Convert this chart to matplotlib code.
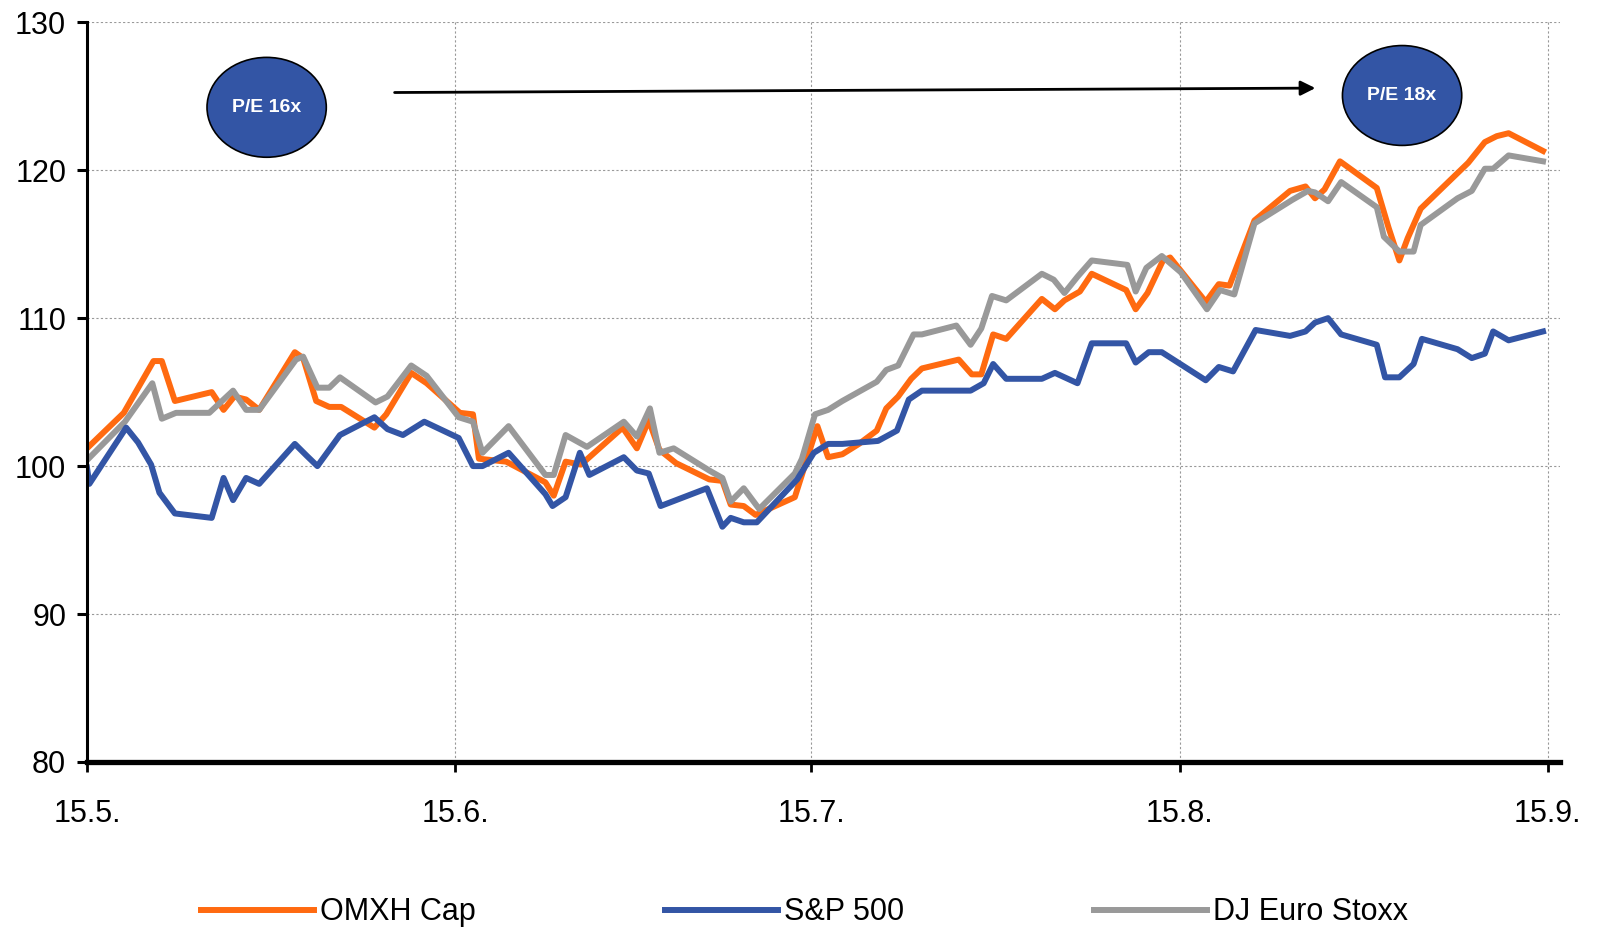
import matplotlib
matplotlib.use("Agg")
import matplotlib.pyplot as plt
import matplotlib.dates as mdates
from matplotlib.patches import Ellipse
from matplotlib.ticker import FuncFormatter
import numpy as np
import pandas as pd

START = pd.Timestamp("2012-05-15")

# days after 15.5., index value
omxh_days = [0, 3.1, 5.6, 6.3, 7.4, 10.5, 11.5, 12.4, 13.4, 14.5, 17.5, 18.2, 19.3, 20.4, 21.4,
             24.2, 25.2, 27.3, 28.6, 31.4, 32.5, 33.0, 35.3, 38.6, 39.3, 40.3, 41.6, 45.1, 46.3,
             47.3, 48.2, 49.6, 52.4, 53.5, 54.2, 55.3, 56.3, 59.6, 61.5, 62.4, 63.6, 65.0, 66.5,
             67.3, 68.3, 69.4, 70.3, 73.4, 74.5, 75.3, 76.3, 77.4, 80.4, 81.5, 82.3, 83.6, 84.6,
             87.5, 88.3, 89.3, 90.6, 91.2, 94.2, 95.3, 96.2, 98.3, 101.3, 102.6, 103.4, 104.2,
             105.5, 108.6, 109.6, 110.5, 111.2, 112.3, 116.3, 117.7, 118.7, 119.7, 122.6]
omxh = [101.2, 103.6, 107.1, 107.1, 104.4, 105.0, 103.8, 104.7, 104.5, 103.8, 107.7, 107.3, 104.4,
        104.0, 104.0, 102.6, 103.5, 106.3, 105.6, 103.6, 103.5, 100.5, 100.3, 98.9, 98.0, 100.3,
        100.1, 102.6, 101.2, 103.1, 101.1, 100.2, 99.1, 99.0, 97.4, 97.3, 96.7, 97.9, 102.7, 100.6,
        100.8, 101.5, 102.4, 103.9, 104.7, 105.9, 106.6, 107.2, 106.2, 106.2, 108.9, 108.6, 111.3,
        110.6, 111.2, 111.8, 113.0, 111.9, 110.6, 111.7, 113.9, 114.1, 111.1, 112.3, 112.2, 116.6,
        118.6, 118.9, 118.1, 118.7, 120.6, 118.8, 116.1, 113.9, 115.4, 117.4, 120.5, 121.9, 122.3,
        122.5, 121.3]

stoxx_days = [0, 3.2, 5.5, 6.3, 7.5, 10.3, 12.3, 13.4, 14.5, 17.6, 18.2, 19.4, 20.4, 21.3, 24.3,
              25.3, 27.3, 28.6, 31.3, 32.5, 33.3, 35.5, 38.6, 39.3, 40.3, 42.1, 45.2, 46.3, 47.4,
              48.2, 49.4, 52.4, 53.5, 54.2, 55.3, 56.6, 59.6, 60.2, 61.3, 62.4, 63.6, 66.5, 67.3,
              68.3, 69.6, 70.3, 73.2, 74.4, 75.3, 76.2, 77.4, 80.4, 81.4, 82.3, 83.4, 84.6, 87.6,
              88.3, 89.2, 90.5, 92.1, 94.3, 95.4, 96.6, 98.3, 101.5, 102.8, 103.4, 104.5, 105.6,
              108.6, 109.2, 110.5, 111.7, 112.3, 115.4, 116.6, 117.7, 118.4, 119.7, 122.6]
stoxx = [100.4, 103.0, 105.6, 103.2, 103.6, 103.6, 105.1, 103.8, 103.8, 107.2, 107.4, 105.3, 105.3,
         106.0, 104.3, 104.7, 106.8, 106.1, 103.3, 103.0, 100.9, 102.7, 99.4, 99.4, 102.1, 101.3,
         103.0, 102.0, 103.9, 100.9, 101.2, 99.7, 99.2, 97.6, 98.5, 97.1, 99.5, 100.5, 103.5, 103.8,
         104.4, 105.7, 106.5, 106.8, 108.9, 108.9, 109.5, 108.2, 109.3, 111.5, 111.2, 113.0, 112.6,
         111.7, 112.8, 113.9, 113.6, 111.8, 113.4, 114.2, 113.1, 110.6, 111.9, 111.6, 116.4, 118.0,
         118.6, 118.5, 117.9, 119.2, 117.5, 115.5, 114.5, 114.5, 116.3, 118.1, 118.6, 120.1, 120.1,
         121.0, 120.6]

sp_days = [0, 0.2, 3.3, 4.3, 5.4, 6.1, 7.4, 10.5, 11.5, 12.3, 13.4, 14.5, 17.5, 18.5, 19.4, 21.3,
           24.2, 25.3, 26.6, 28.4, 31.3, 32.5, 33.3, 35.5, 38.6, 39.2, 40.3, 41.5, 42.3, 45.2,
           46.3, 47.3, 48.3, 52.2, 53.5, 54.2, 55.3, 56.4, 59.8, 61.2, 62.4, 63.6, 66.6, 68.2,
           69.2, 70.3, 74.4, 75.5, 76.3, 77.4, 80.4, 81.5, 83.4, 84.6, 87.5, 88.3, 89.4, 90.5,
           94.2, 95.3, 96.5, 98.4, 101.3, 102.6, 103.4, 104.5, 105.6, 108.6, 109.3, 110.5, 111.7,
           112.4, 115.4, 116.6, 117.7, 118.4, 119.7, 122.6]
sp500 = [99.9, 98.8, 102.6, 101.6, 100.1, 98.2, 96.8, 96.5, 99.2, 97.7, 99.2, 98.8, 101.5, 100.7,
         100.0, 102.1, 103.3, 102.5, 102.1, 103.0, 101.9, 100.0, 100.0, 100.9, 98.1, 97.3, 97.9,
         100.9, 99.4, 100.6, 99.7, 99.5, 97.3, 98.5, 95.9, 96.5, 96.2, 96.2, 99.1, 100.9, 101.5,
         101.5, 101.7, 102.4, 104.5, 105.1, 105.1, 105.6, 106.9, 105.9, 105.9, 106.3, 105.6, 108.3,
         108.3, 107.0, 107.7, 107.7, 105.8, 106.7, 106.4, 109.2, 108.8, 109.1, 109.7, 110.0, 108.9,
         108.2, 106.0, 106.0, 106.9, 108.6, 107.9, 107.3, 107.6, 109.1, 108.5, 109.1]

ORANGE = "#FF6A10"
BLUE = "#3355A5"
GREY = "#999999"

plt.rcParams["font.family"] = ["Liberation Sans", "DejaVu Sans"]

base = mdates.date2num(START)


def to_x(days):
    return base + np.array(days)


fig = plt.figure(figsize=(15.99, 9.27), dpi=100)
ax = fig.add_axes([0.0544, 0.178, 0.921, 0.798])

LW = 4.3
l1, = ax.plot(to_x(omxh_days), omxh, color=ORANGE, lw=LW, label="OMXH Cap")
l3, = ax.plot(to_x(stoxx_days), stoxx, color=GREY, lw=LW, label="DJ Euro Stoxx")
l2, = ax.plot(to_x(sp_days), sp500, color=BLUE, lw=LW, label="S&P 500")

ax.set_ylim(80, 130)
ax.set_xlim(base, base + 124)
ax.set_yticks([80, 90, 100, 110, 120, 130])
xticks = [pd.Timestamp(2012, m, 15) for m in range(5, 10)]
ax.set_xticks(mdates.date2num(xticks))
ax.xaxis.set_major_formatter(FuncFormatter(
    lambda v, pos: "{}.{}.".format(mdates.num2date(v).day, mdates.num2date(v).month)))

ax.grid(True, color="#999999", linestyle=(0, (2, 2)), linewidth=0.8)
ax.set_axisbelow(True)
for s in ["top", "right"]:
    ax.spines[s].set_visible(False)
ax.spines["left"].set_linewidth(2.2)
ax.spines["bottom"].set_linewidth(3.8)
ax.tick_params(axis="y", length=7, width=2.2, pad=8, labelsize=22)
ax.tick_params(axis="x", length=7, width=2.0, pad=20, labelsize=22)

# P/E bubbles and arrow
for cx, cy, txt in [(0.122, 0.885, "P/E 16x"), (0.893, 0.901, "P/E 18x")]:
    ax.add_patch(Ellipse((cx, cy), 0.081, 0.135, transform=ax.transAxes,
                         facecolor=BLUE, edgecolor="black", lw=1.2, zorder=5))
    ax.text(cx, cy, txt, transform=ax.transAxes, ha="center", va="center",
            color="white", fontsize=14, fontweight="bold", zorder=6)
ax.annotate("", xy=(0.836, 0.911), xytext=(0.207, 0.905), xycoords="axes fraction",
            arrowprops=dict(arrowstyle="-|>", color="black", lw=2, mutation_scale=22))

fig.legend(handles=[l1, l2, l3], loc="lower center", bbox_to_anchor=(0.503, -0.03), ncol=3,
           frameon=False, fontsize=22, handlelength=3.7, handletextpad=0.2, columnspacing=6.2)

fig.savefig("out.png", dpi=100)
